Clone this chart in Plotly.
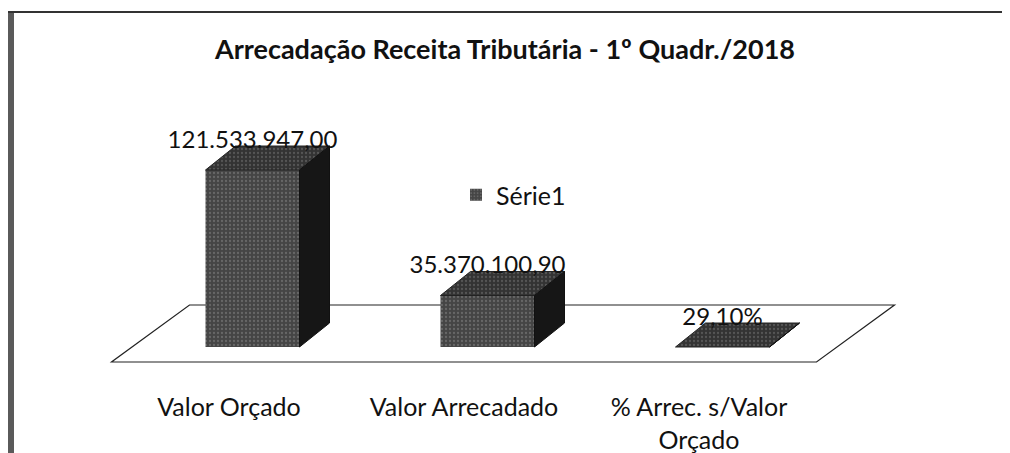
import plotly.graph_objects as go

# ---- data ----
categories = ["Valor Orçado", "Valor Arrecadado", "% Arrec. s/Valor<br>Orçado"]
values = [121533947.00, 35370100.90, 0.291]
value_labels = ["121.533.947,00", "35.370.100,90", "29,10%"]
series_name = "Série1"
title_text = "Arrecadação Receita Tributária - 1º Quadr./2018"

# ---- layout geometry (reference pixels) ----
PAGE_OFF = 8                      # default body margin of the html page
W, H = 1010, 453
PX_L, PX_R, PX_T, PX_B = 100, 910, 95, 380   # plot area in page pixels
PW, PH = PX_R - PX_L, PX_B - PX_T
X_PX0, X_STEP = 229, 235          # pixel of category 0, pixels per category
Y_PX0 = 347                       # pixel of value 0
K = values[0] / 177.0             # value per pixel

def px_x(p):
    return (p - X_PX0) / X_STEP

def dpx_x(d):
    return d / X_STEP

def dpx_y(d):
    return d * K

x_range = [px_x(PX_L), px_x(PX_R)]
y_range = [-(PX_B - Y_PX0) * K, (Y_PX0 - PX_T) * K]

FONT = "Lato"
n = len(categories)

BAR_OFF, BAR_W = 0.10, 0.40
BDX, BDY = dpx_x(30), dpx_y(24)
FY_FRONT = -dpx_y(15)
FDX, FDY = dpx_x(78), dpx_y(57)

fig = go.Figure()

idx = list(range(n))
fig.add_trace(go.Bar(
    x=[i + BAR_OFF for i in idx], y=values, base=0, width=BAR_W,
    name=series_name, showlegend=True,
    marker=dict(color="#4a4a4a", line=dict(width=0),
                pattern=dict(shape=".", fgcolor="#8a8a8a", bgcolor="#454545", size=4, solidity=0.25)),
    hoverinfo="skip",
))

for i, v in zip(idx, values):
    x0 = i + BAR_OFF - BAR_W / 2
    x1 = i + BAR_OFF + BAR_W / 2
    fig.add_trace(go.Scatter(
        x=[x0, x1, x1 + BDX, x0 + BDX, x0], y=[v, v, v + BDY, v + BDY, v],
        mode="lines", fill="toself", fillcolor="#3a3a3a",
        fillpattern=dict(shape=".", fgcolor="#777777", bgcolor="#333333", size=4, solidity=0.25),
        line=dict(color="#222222", width=1), showlegend=False, hoverinfo="skip"))
    fig.add_trace(go.Scatter(
        x=[x1, x1 + BDX, x1 + BDX, x1, x1], y=[0, BDY, v + BDY, v, 0],
        mode="lines", fill="toself", fillcolor="#161616",
        line=dict(color="#111111", width=1), showlegend=False, hoverinfo="skip"))

fig.add_trace(go.Scatter(
    x=[i + BAR_OFF for i in idx], y=[v + BDY + dpx_y(4) for v in values],
    mode="text", text=value_labels, textposition="middle center",
    textfont=dict(family=FONT, size=24, color="#111111"),
    showlegend=False, hoverinfo="skip"))

fx0, fx1 = -0.5, n - 0.5
fig.add_shape(type="path", xref="x", yref="y", layer="below",
              path=f"M{fx0},{FY_FRONT} L{fx1},{FY_FRONT} L{fx1 + FDX},{FY_FRONT + FDY} "
                   f"L{fx0 + FDX},{FY_FRONT + FDY} Z",
              line=dict(color="#222222", width=1.2), fillcolor="white")

def paper_x(p):
    return (p - PX_L) / PW

def paper_y(p):
    return (PX_B - p) / PH

fig.add_shape(type="line", xref="paper", yref="paper",
              x0=paper_x(11), x1=paper_x(11), y0=paper_y(12), y1=paper_y(H + 5),
              line=dict(color="#5a5a5a", width=6))
fig.add_shape(type="line", xref="paper", yref="paper",
              x0=paper_x(8), x1=paper_x(W + 5), y0=paper_y(12), y1=paper_y(12),
              line=dict(color="#333333", width=2))

FW, FH = W - PAGE_OFF, H - PAGE_OFF
fig.update_layout(
    width=FW, height=FH,
    margin=dict(l=PX_L - PAGE_OFF, r=FW - (PX_R - PAGE_OFF),
                t=PX_T - PAGE_OFF, b=FH - (PX_B - PAGE_OFF)),
    paper_bgcolor="white", plot_bgcolor="white",
    title=dict(text=f"<b>{title_text}</b>", x=0.5, xref="paper", xanchor="center",
               y=1 - (50 - PAGE_OFF) / FH, yanchor="middle",
               font=dict(family=FONT, size=27, color="#111111")),
    xaxis=dict(range=x_range, tickvals=idx, ticktext=categories, showgrid=False,
               zeroline=False, showline=False, ticks="", ticklabelstandoff=10,
               automargin=False,
               tickfont=dict(family=FONT, size=25, color="#111111"), fixedrange=True),
    yaxis=dict(range=y_range, showgrid=False, zeroline=False, showline=False,
               showticklabels=False, ticks="", fixedrange=True, automargin=False),
    legend=dict(x=paper_x(456), y=paper_y(195), xanchor="left", yanchor="middle",
                font=dict(family=FONT, size=25, color="#111111"),
                bgcolor="rgba(0,0,0,0)", itemwidth=30),
    showlegend=True,
    barmode="overlay",
)

fig.write_html("out.html")
